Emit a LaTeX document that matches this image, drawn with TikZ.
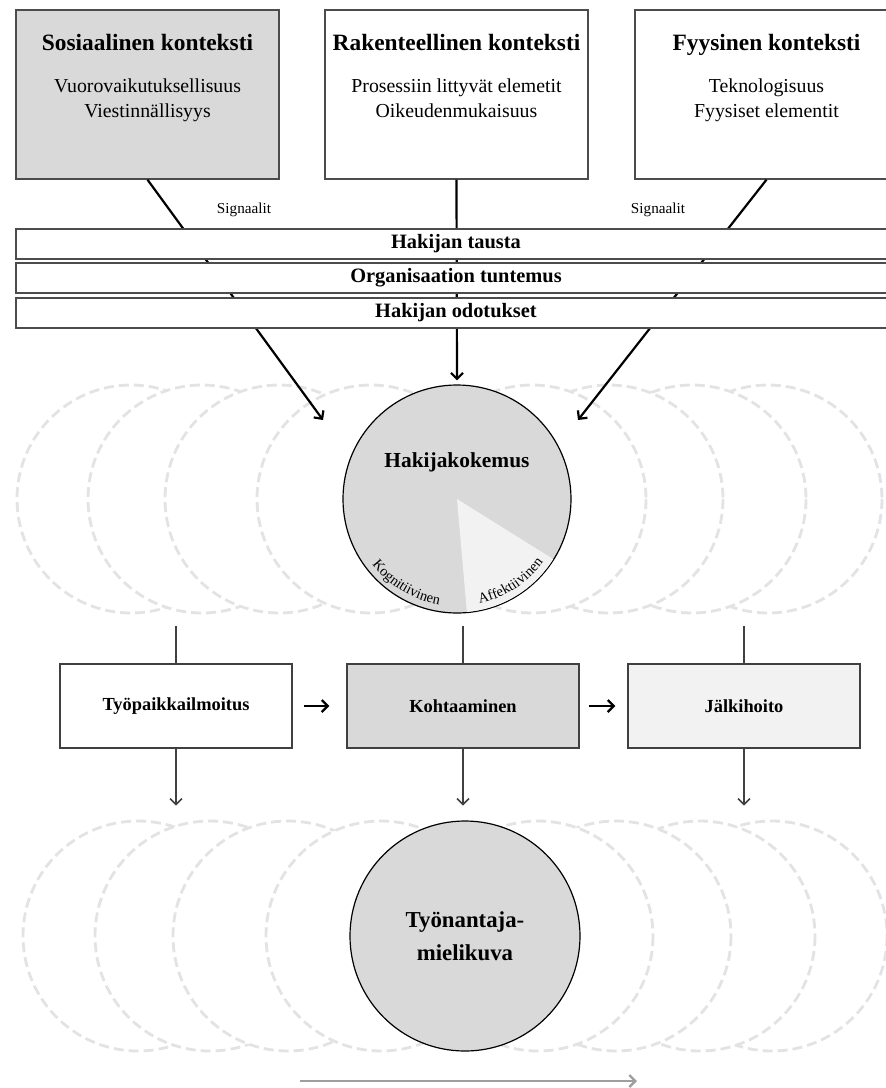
\documentclass[tikz,border=0pt]{standalone}
\usepackage{fontspec}
\setmainfont{Liberation Serif}
\usetikzlibrary{positioning, arrows, arrows.meta, decorations.text}

\begin{document}
\begin{tikzpicture}[x=0.5pt,y=-0.5pt,>={Straight Barb[length=3pt,width=6pt]},
  ctxbox/.style={draw=black!70,line width=0.7pt,minimum width=131.5pt,minimum height=84.5pt,inner sep=0pt},
  ctxlabel/.style={anchor=north,yshift=-12.5pt,inner sep=0pt,align=center,font=\fontsize{9.9}{12.5}\selectfont},
  band/.style={draw=black!70,line width=0.7pt,fill=white,minimum width=440pt,minimum height=15pt,inner sep=0pt,font=\fontsize{10.2}{12}\selectfont\bfseries},
  ghost/.style={draw=black!11,fill=white,line width=1.4pt,dash pattern=on 5pt off 2.5pt},
  core/.style={circle,draw=black,line width=0.6pt,fill=black!15,minimum size=114pt,inner sep=0pt},
  stage/.style={draw=black!75,line width=0.7pt,minimum width=116pt,minimum height=42pt,inner sep=0pt,font=\fontsize{9.2}{11}\selectfont\bfseries},
  signal/.style={->,line width=1.1pt},
  flow/.style={draw=black!75,line width=0.8pt}]
\useasboundingbox (0,0) rectangle (886,1088);

% faded circles
\foreach \cx in {131,202,279,371,768,692,609,532}
  \draw[ghost] (\cx,499) circle[radius=114];
\foreach \cx in {138,210,288,381,772,700,616,538}
  \draw[ghost] (\cx,936) circle[radius=115];

% applicant experience
\node[core,label={[font=\fontsize{10.7}{12}\selectfont\bfseries,yshift=18.5pt]center:Hakijakokemus}] (hk) at (457,499) {};
\fill[black!5] (hk.center) -- ++(32:113.4) arc[start angle=32,end angle=85,radius=113.4] -- cycle;
\path[decorate,decoration={text along path,text align=center,
  text={|\fontsize{7.2}{8}\selectfont|Kognitiivinen}}]
  (hk.center) ++(152:107) arc[start angle=152,end angle=90,radius=107];
\path[decorate,decoration={text along path,text align=center,
  text={|\fontsize{7.2}{8}\selectfont|Affektiivinen}}]
  (hk.center) ++(84:107) arc[start angle=84,end angle=30,radius=107];

\node[core,minimum size=115pt,align=center,font=\fontsize{11.4}{16.5}\selectfont\bfseries] (tm) at (465,936) {Työnantaja-\\mielikuva};

% contexts
\node[ctxbox,fill=black!15,label={[ctxlabel]north:{{\fontsize{11.7}{14}\selectfont\bfseries Sosiaalinen konteksti}\\[8.25pt]Vuorovaikutuksellisuus\\Viestinnällisyys}}] (sos) at (147.5,94.5) {};
\node[ctxbox,fill=white,label={[ctxlabel]north:{{\fontsize{11.7}{14}\selectfont\bfseries Rakenteellinen konteksti}\\[8.25pt]Prosessiin littyvät elemetit\\Oikeudenmukaisuus}}] (rak) at (456.5,94.5) {};
\node[ctxbox,fill=white,label={[ctxlabel]north:{{\fontsize{11.7}{14}\selectfont\bfseries Fyysinen konteksti}\\[8.25pt]Teknologisuus\\Fyysiset elementit}}] (fyy) at (766.5,94.5) {};

\node[font=\fontsize{7.6}{9}\selectfont] (sig1) at (244,210) {Signaalit};
\node[font=\fontsize{7.6}{9}\selectfont] (sig2) at (658,210) {Signaalit};

\coordinate (sosend) at (323,420);
\coordinate (fyyend) at (578,420);
\draw[signal] (sos.south) -- (sosend);
\draw[signal,shorten >=2pt] (rak.south) -- (hk.north);
\draw[signal] (fyy.south) -- (fyyend);

% filters
\node[band] (tausta) at (456,244) {Hakijan tausta};
\node[band] (tuntemus) at (456,278) {Organisaation tuntemus};
\node[band] (odotukset) at (456,313) {Hakijan odotukset};

% process stages
\node[stage,fill=white] (ilm) at (176,706) {Työpaikkailmoitus};
\node[stage,fill=black!15] (koh) at (463,706) {Kohtaaminen};
\node[stage,fill=black!5] (jal) at (744,706) {Jälkihoito};

\foreach \s in {ilm,koh,jal} {
  \coordinate[above=18.5pt of \s.north] (\s in);
  \coordinate[below=28.5pt of \s.south] (\s out);
  \draw[flow] (\s in) -- (\s.north);
  \draw[flow,->] (\s.south) -- (\s out);
}

\draw[->,line width=1.1pt,shorten <=5.5pt,shorten >=8.5pt] (ilm) -- (koh);
\draw[->,line width=1.1pt,shorten <=4.5pt,shorten >=6pt] (koh) -- (jal);

% time
\coordinate (tstart) at (300,1081);
\coordinate (tend) at (637,1081);
\draw[->,black!38,line width=1.2pt] (tstart) -- (tend);
\end{tikzpicture}
\end{document}
